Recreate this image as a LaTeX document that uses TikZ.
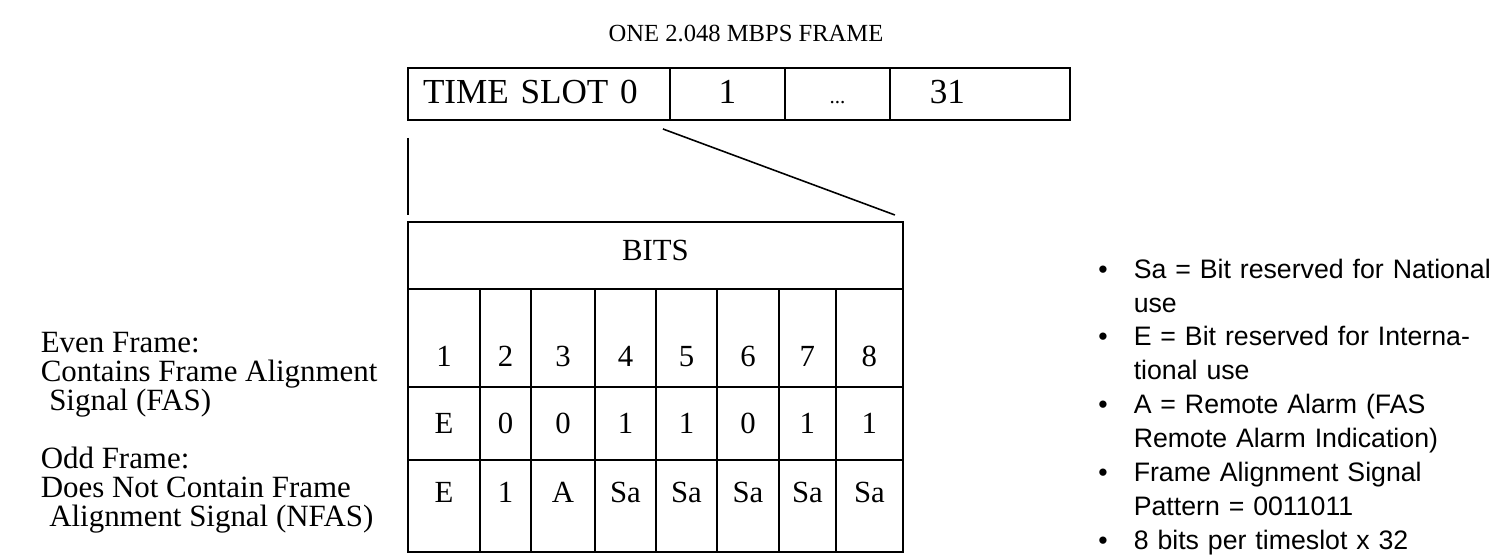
\documentclass[tikz,border=0pt]{standalone}
\usepackage{fontspec}
\setmainfont{Liberation Serif}
\setsansfont{Liberation Sans}
\usetikzlibrary{positioning}

\newcommand{\noteitem}[1]{\noindent\hangindent=0.82cm\hangafter=1%
  \makebox[0.82cm][l]{\hspace{0.11cm}\textbullet}#1\par}

\begin{document}
\begin{tikzpicture}[
    x=0.02cm, y=-0.02cm,
    line width=0.9pt,
    slot/.style={
        rectangle,
        draw,
        inner sep=0pt,
        outer sep=0pt,
        minimum height=1.04cm,
        text height=0.5cm,
        text depth=0.1cm,
        font=\fontsize{20}{20}\selectfont
    },
    cell/.style={
        rectangle,
        draw,
        inner sep=0pt,
        outer sep=0pt,
        font=\fontsize{17.5}{17.5}\selectfont
    },
    numcell/.style={cell, minimum height=1.96cm, text height=1.2cm, text depth=0.04cm},
    evencell/.style={cell, minimum height=1.46cm, text height=0.42cm, text depth=0cm},
    oddcell/.style={cell, minimum height=1.84cm, text height=0.42cm, text depth=0.54cm},
    c1/.style={minimum width=1.44cm},
    c2/.style={minimum width=1.02cm},
    c3/.style={minimum width=1.28cm},
    c4/.style={minimum width=1.22cm},
    c5/.style={minimum width=1.22cm},
    c6/.style={minimum width=1.24cm},
    c7/.style={minimum width=1.14cm},
    c8/.style={minimum width=1.34cm},
    framenote/.style={
        align=left,
        inner sep=0pt,
        anchor=north west,
        font=\fontsize{17.6}{16.6}\selectfont
    },
    notes/.style={
        align=left,
        inner sep=0pt,
        anchor=north west,
        text width=8.1cm,
        font=\sffamily\fontsize{15.2}{19.3}\selectfont
    }
]

\path[use as bounding box, fill=white] (0,0) rectangle (1502,560);

\node[font=\fontsize{14}{14}\selectfont, anchor=base west] (title) at (602,42) {ONE 2.048 MBPS FRAME};

\node[slot, minimum width=5.24cm, text width=5.24cm, align=left, anchor=north west] (slot0) at (408,68) {\hspace*{0.3cm}TIME SLOT 0};
\node[slot, minimum width=2.3cm, right=0pt of slot0] (slot1) {1};
\node[slot, minimum width=2.1cm, right=0pt of slot1] (slotdots) {{\fontsize{12}{12}\selectfont ...}};
\node[slot, minimum width=3.6cm, text width=3.6cm, align=left, right=0pt of slotdots] (slot31) {\hspace*{0.8cm}31};

\node[cell, minimum width=9.9cm, minimum height=1.34cm, text height=0.42cm, text depth=0.2cm, anchor=north west] (bits) at (408,222) {BITS};

% bit numbers
\node[numcell, c1, below right=0pt of bits.south west] (n1) {1};
\node[numcell, c2, right=0pt of n1] (n2) {2};
\node[numcell, c3, right=0pt of n2] (n3) {3};
\node[numcell, c4, right=0pt of n3] (n4) {4};
\node[numcell, c5, right=0pt of n4] (n5) {5};
\node[numcell, c6, right=0pt of n5] (n6) {6};
\node[numcell, c7, right=0pt of n6] (n7) {7};
\node[numcell, c8, right=0pt of n7] (n8) {8};

% even frame (FAS)
\node[evencell, c1, below=0pt of n1] (e1) {E};
\node[evencell, c2, below=0pt of n2] (e2) {0};
\node[evencell, c3, below=0pt of n3] (e3) {0};
\node[evencell, c4, below=0pt of n4] (e4) {1};
\node[evencell, c5, below=0pt of n5] (e5) {1};
\node[evencell, c6, below=0pt of n6] (e6) {0};
\node[evencell, c7, below=0pt of n7] (e7) {1};
\node[evencell, c8, below=0pt of n8] (e8) {1};

% odd frame (NFAS)
\node[oddcell, c1, below=0pt of e1] (o1) {E};
\node[oddcell, c2, below=0pt of e2] (o2) {1};
\node[oddcell, c3, below=0pt of e3] (o3) {A};
\node[oddcell, c4, below=0pt of e4] (o4) {Sa};
\node[oddcell, c5, below=0pt of e5] (o5) {Sa};
\node[oddcell, c6, below=0pt of e6] (o6) {Sa};
\node[oddcell, c7, below=0pt of e7] (o7) {Sa};
\node[oddcell, c8, below=0pt of e8] (o8) {Sa};

\node[framenote] (evenlbl) at (40,331) {Even Frame:\\Contains Frame Alignment\\\hspace*{0.17cm}Signal (FAS)};
\node[framenote] (oddlbl) at (40,446) {Odd Frame:\\Does Not Contain Frame\\\hspace*{0.17cm}Alignment Signal (NFAS)};

\node[notes] (notes) at (1092,258) {%
  \noteitem{Sa = Bit reserved for National\newline use}%
  \noteitem{E = Bit reserved for Interna-\newline tional use}%
  \noteitem{A = Remote Alarm (FAS\newline Remote Alarm Indication)}%
  \noteitem{Frame Alignment Signal\newline Pattern = 0011011}%
  \noteitem{8 bits per timeslot x 32}};

\draw ([yshift=-0.36cm]slot0.south west) -- ([yshift=0.14cm]bits.north west);
\draw ([xshift=-0.14cm, yshift=-0.18cm]slot0.south east) -- ([xshift=-0.16cm, yshift=0.14cm]bits.north east);

\end{tikzpicture}
\end{document}
